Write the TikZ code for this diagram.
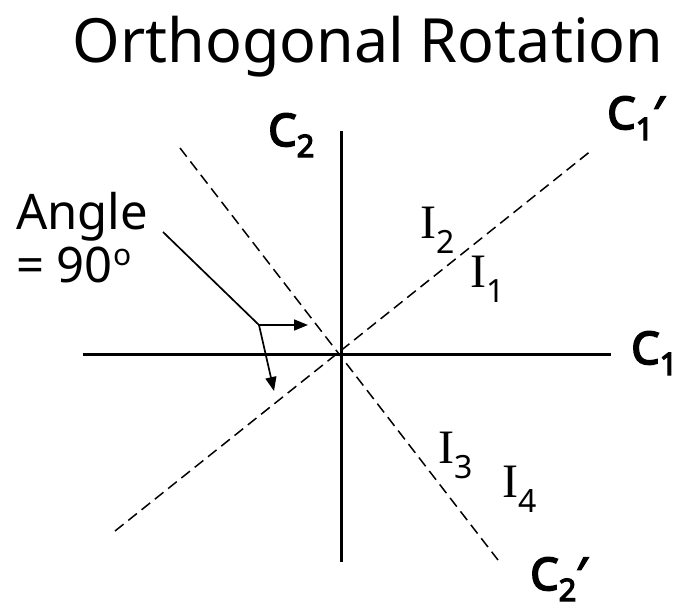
\documentclass[tikz,border=0pt]{standalone}
\usepackage{fontspec}
\setmainfont{Noto Sans}
\newfontfamily\serifI{Liberation Serif}
\newfontfamily\cbold{Noto Sans}[FakeBold=4]
\usetikzlibrary{arrows.meta}
\newcommand{\Isub}[1]{{\serifI I}\raisebox{-15pt}{\fontsize{32}{32}\selectfont #1}}
\newcommand{\Csub}[2]{C\raisebox{-11pt}{\fontsize{31}{31}\selectfont #1}#2}
\begin{document}
\begin{tikzpicture}[x=1pt,y=-1pt,
  axis/.style={line width=3pt},
  rot/.style={line width=1.5pt, dash pattern=on 11pt off 6pt},
  lead/.style={line width=1.7pt},
  arr/.style={lead, -{Triangle[length=14pt,width=11pt]}},
  ilab/.style={anchor=base west, inner sep=0pt, font=\fontsize{48}{48}\selectfont},
  clab/.style={anchor=base west, inner sep=0pt, font=\fontsize{45}{45}\selectfont\cbold},
  txt/.style={anchor=base west, inner sep=0pt, font=\fontsize{49}{49}\selectfont}]
\useasboundingbox (0,0) rectangle (683,611);
\node[inner sep=0pt, anchor=base, font=\fontsize{61}{61}\selectfont] (title) at (368,62) {Orthogonal Rotation};
% axes
\coordinate (O) at (341,354);
\coordinate (xl) at (83,354);
\coordinate (xr) at (611,354);
\coordinate (yt) at (341,131);
\coordinate (yb) at (341,562);
\draw[axis] (xl) -- (xr);
\draw[axis] (yt) -- (yb);
% rotated axes
\coordinate (c1a) at (115,531);
\coordinate (c1b) at (592,150);
\coordinate (c2a) at (180,148);
\coordinate (c2b) at (498,560);
\draw[rot] (c1a) -- (c1b);
\draw[rot] (c2a) -- (c2b);
% labels
\node[clab] (C2) at (268,146) {\Csub{2}{}};
\node[clab] (C1p) at (607,129) {\Csub{1}{′}};
\node[clab] (C1) at (631,364) {\Csub{1}{}};
\node[clab] (C2p) at (530,590) {\Csub{2}{′}};
\node[ilab] (I2) at (420,238) {\Isub{2}};
\node[ilab] (I1) at (470,287) {\Isub{1}};
\node[ilab] (I3) at (438,463) {\Isub{3}};
\node[ilab] (I4) at (502,497) {\Isub{4}};
% angle label
\node[txt] (ang) at (16,229) {Angle};
\node[txt] (eq) at (16,282) {= 90\raisebox{17pt}{\fontsize{30}{30}\selectfont o}};
\coordinate (ls) at (163,232);
\coordinate (k) at (259,325);
\coordinate (ka) at (308,325);
\coordinate (kb) at (274,391);
\draw[lead] (ls) -- (k);
\draw[arr] (k) -- (ka);
\draw[arr] (k) -- (kb);
\end{tikzpicture}
\end{document}
